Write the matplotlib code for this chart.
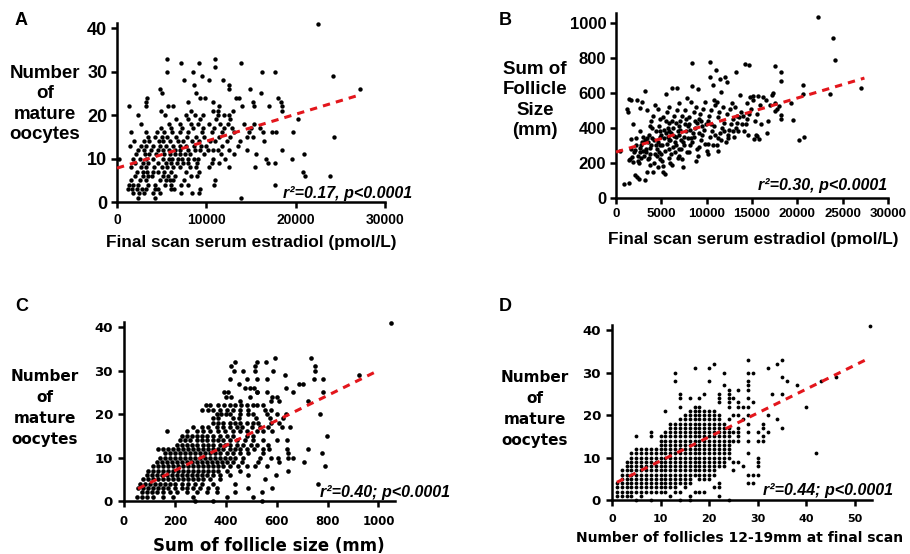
import matplotlib
matplotlib.use('Agg')
import matplotlib.pyplot as plt

# ---------------- panel A: mature oocytes vs estradiol (x in 1000 pmol/L), one row per oocyte count
a_counts = [1, 2, 3, 4, 5, 6, 7, 8, 9, 10, 11, 12, 13, 14, 15, 16, 17, 18, 19, 20,
            21, 22, 23, 24, 25, 26, 27, 28, 29, 30, 31, 32, 33, 41]
a_e2_k = [
    [2.4, 4.3, 13.9],
    [1.8, 2.5, 3.0, 4.0, 4.8, 7.2, 8.4, 9.2],
    [1.2, 1.7, 2.2, 2.8, 3.3, 4.2, 4.6, 6.0, 6.4, 9.3],
    [1.3, 1.8, 2.3, 3.5, 4.2, 5.4, 6.0, 7.2, 8.0, 10.9, 17.7],
    [1.6, 2.6, 3.2, 4.8, 5.5, 5.9, 6.3, 7.5, 11.0],
    [2.0, 2.9, 3.5, 3.9, 5.1, 5.7, 6.5, 8.3, 9.0, 21.0, 23.8],
    [2.2, 2.9, 3.4, 4.0, 4.6, 5.3, 6.0, 7.7, 9.2, 20.8],
    [1.6, 2.7, 3.3, 4.1, 5.0, 5.6, 6.3, 7.0, 8.2, 8.8, 10.3, 12.5, 15.5],
    [2.0, 2.9, 3.5, 4.6, 5.5, 6.0, 6.7, 7.4, 8.0, 8.9, 10.6, 11.4, 16.9, 17.7],
    [0.2, 1.8, 2.6, 3.2, 4.0, 5.2, 5.8, 6.2, 6.8, 7.3, 7.9, 8.6, 9.1, 10.8, 12.1, 16.7, 19.6],
    [2.1, 3.1, 3.6, 4.4, 5.3, 5.9, 6.5, 7.0, 7.6, 8.2, 9.7, 11.6, 13.1, 15.6, 20.9],
    [2.4, 3.0, 3.8, 4.6, 5.1, 5.8, 6.5, 7.1, 8.0, 8.7, 9.3, 10.2, 10.8, 11.3, 12.5, 14.5, 18.5],
    [1.4, 2.7, 3.3, 4.0, 4.8, 5.5, 6.3, 7.1, 7.7, 8.6, 9.4, 10.0, 11.7, 13.5],
    [1.9, 3.0, 3.6, 4.7, 5.2, 5.9, 6.8, 7.4, 8.4, 9.2, 10.4, 11.0, 12.3, 13.8, 16.4],
    [3.5, 4.2, 5.0, 5.6, 6.6, 7.8, 8.8, 9.7, 11.4, 12.6, 14.5, 15.2, 24.3],
    [1.6, 3.3, 4.5, 5.3, 6.2, 7.0, 7.9, 9.5, 10.6, 11.8, 13.1, 14.8, 16.3, 17.4, 17.8, 19.7],
    [4.9, 6.1, 7.3, 8.5, 9.6, 10.9, 12.0, 12.9, 15.0, 16.0],
    [2.7, 5.8, 7.0, 8.3, 9.1, 10.3, 11.5, 12.4, 14.2, 15.3],
    [6.6, 8.0, 9.3, 11.1, 12.7, 20.3],
    [2.4, 5.4, 7.7, 8.7, 9.6, 11.3, 12.0, 12.5],
    [4.9, 8.3, 10.7, 11.3, 13.0, 18.5],
    [1.3, 3.3, 5.7, 6.3, 11.4, 14.0, 15.3, 17.0, 18.5],
    [3.2, 7.9, 10.8, 15.2, 18.4],
    [3.4, 9.3, 9.9, 13.3, 13.7, 18.0],
    [5.0, 8.8, 16.1],
    [4.8, 12.5, 14.9, 27.2],
    [8.6, 12.5],
    [7.5, 10.3, 11.9],
    [9.5, 24.2],
    [5.6, 8.5, 16.2, 17.7],
    [11.0],
    [7.2, 9.2, 13.9],
    [5.6, 11.0],
    [22.5],
]
a_fit = [7.8, 0.62, 0, 27.0]   # intercept, slope per 1000, x from, x to (1000 pmol/L)

# ---------------- panel B: sum of follicle size vs estradiol (x in 1000 pmol/L)
b_e2_k = [1.2, 1.3, 1.4, 1.6, 1.7, 1.9, 1.4, 1.8, 1.9, 1.5, 2.0, 0.9, 1.4, 0.4, 2.1, 1.7,
          2.1, 2.3, 2.5, 2.3, 2.9, 2.7, 2.2, 2.4, 2.6, 2.8, 2.9, 2.5, 2.7, 3.0, 2.2, 2.6, 2.8, 3.0, 2.4,
          3.2, 3.4, 3.2, 3.4, 3.1, 3.3, 3.5, 3.6, 3.8, 3.9, 3.2, 3.7, 3.9, 3.5, 3.8, 3.3, 3.6, 4.0, 3.7, 3.4,
          4.1, 4.2, 4.3, 4.5, 4.6, 4.8, 4.4, 4.7, 4.9, 4.2, 4.5, 4.8, 4.1, 4.6, 4.3, 4.9, 4.4, 4.7, 4.0, 4.9, 4.6,
          5.2, 5.4, 5.5, 5.0, 5.1, 5.3, 5.5, 5.7, 5.9, 5.2, 5.6, 5.8, 5.1, 5.4, 5.6, 5.8, 5.3, 5.7, 5.9, 5.0,
          5.5, 5.9, 5.2, 5.8,
          6.2, 6.7, 6.0, 6.1, 6.3, 6.5, 6.6, 6.8, 6.9, 6.2, 6.4, 6.7, 6.9, 6.1, 6.3, 6.5, 6.8, 6.0, 6.6, 6.4,
          6.9, 6.2, 6.6,
          7.4, 7.0, 7.2, 7.4, 7.5, 7.7, 7.9, 7.1, 7.3, 7.6, 7.8, 7.2, 7.5, 7.8, 7.0, 7.6, 7.9, 7.3, 7.7, 7.1,
          8.4, 8.4, 8.0, 8.2, 8.3, 8.5, 8.7, 8.9, 8.1, 8.6, 8.8, 8.2, 8.4, 8.9, 8.0, 8.6, 8.8, 8.3, 8.7,
          9.0, 9.2, 9.4, 9.5, 9.7, 9.9, 9.1, 9.3, 9.6, 9.8, 9.2, 9.5, 9.8, 9.0, 9.4,
          10.4, 10.4, 10.7, 10.0, 10.2, 10.4, 10.6, 10.8, 10.1, 10.3, 10.5, 10.9, 10.2, 10.7, 10.9, 10.5, 10.8,
          11.0, 11.5, 11.6, 11.1, 11.3, 11.5, 11.7, 11.9, 11.2, 11.4, 11.8, 11.1, 11.6, 11.9, 11.3,
          12.0, 12.2, 12.1, 12.3, 12.5, 12.7, 12.9, 12.2, 12.6, 12.8, 12.4, 12.9,
          13.2, 13.7, 13.0, 13.2, 13.4, 13.6, 13.8, 13.1, 13.5, 13.9, 13.3,
          14.2, 14.7, 14.8, 14.1, 14.3, 14.5, 14.7, 14.9, 14.4, 14.6, 14.0,
          15.1, 15.5, 15.8, 15.2, 15.4, 15.3, 15.6, 15.9, 15.1, 16.0, 16.2, 15.7,
          16.6, 17.5, 17.3, 17.5, 18.0, 18.2, 18.2, 17.5, 18.2, 18.2, 16.8, 17.0, 17.8, 16.5, 17.2,
          19.5, 19.3, 20.6, 20.6, 20.7, 20.2, 22.3, 23.9, 24.2, 27.0, 23.6]
b_size = [510, 490, 567, 557, 338, 424, 215, 234, 205, 225, 260, 82, 86, 268, 272, 280,
          129, 120, 110, 557, 548, 515, 300, 240, 285, 230, 320, 200, 260, 350, 340, 380, 300, 270, 210,
          608, 500, 101, 148, 240, 280, 320, 360, 250, 300, 330, 410, 440, 220, 190, 260, 230, 340, 285, 345,
          148, 200, 250, 280, 320, 350, 380, 410, 300, 330, 240, 220, 470, 510, 530, 450, 300, 265, 400, 380, 175,
          148, 139, 595, 250, 300, 340, 370, 400, 430, 460, 490, 520, 210, 270, 310, 280, 390, 350, 330, 360,
          440, 230, 185, 380,
          629, 629, 200, 250, 290, 320, 350, 380, 410, 440, 470, 500, 540, 370, 400, 260, 230, 330, 300, 355,
          280, 190, 430,
          177, 240, 280, 320, 350, 380, 410, 440, 470, 500, 570, 330, 300, 260, 360, 420, 340, 220, 450, 390,
          772, 637, 260, 300, 340, 370, 400, 430, 460, 490, 520, 390, 320, 280, 420, 350, 210, 545, 440,
          240, 290, 330, 360, 390, 420, 450, 480, 510, 550, 370, 410, 310, 620, 440,
          776, 690, 643, 270, 310, 350, 380, 410, 440, 470, 500, 530, 250, 300, 360, 420, 560,
          728, 677, 605, 300, 340, 370, 400, 430, 460, 490, 520, 550, 330, 380, 270,
          690, 662, 320, 360, 390, 420, 450, 480, 510, 540, 340, 380,
          719, 585, 350, 400, 430, 460, 490, 520, 380, 420, 470,
          766, 760, 576, 380, 420, 450, 480, 510, 540, 360, 470,
          580, 352, 338, 338, 357, 440, 480, 530, 560, 424, 576, 580,
          371, 753, 599, 542, 523, 475, 449, 496, 719, 667, 440, 530, 510, 560, 590,
          447, 544, 643, 591, 348, 329, 1032, 914, 785, 627, 591]
b_fit = [262, 15.4, 0, 27.4]

# ---------------- panel C: mature oocytes vs sum of follicle size (mm), one row per oocyte count
c_counts = list(range(0, 34)) + [41]
c_size = [
    [279, 351, 541],
    [52, 70, 89, 115, 155, 194, 273, 404, 508],
    [70, 89, 109, 128, 155, 181, 207, 246, 286, 325, 364, 436, 541],
    [56, 76, 96, 115, 135, 155, 174, 201, 227, 246, 273, 299, 332, 364, 489, 580],
    [63, 83, 102, 122, 142, 161, 181, 201, 227, 253, 279, 305, 351, 436, 764],
    [76, 96, 115, 135, 155, 174, 194, 214, 233, 253, 273, 292, 312, 338, 377, 554],
    [89, 109, 128, 148, 168, 187, 207, 227, 246, 266, 286, 305, 325, 351, 377, 417, 489, 596],
    [96, 115, 135, 155, 174, 194, 214, 233, 253, 273, 292, 312, 332, 351, 371, 404, 456, 646],
    [115, 135, 155, 174, 194, 214, 233, 253, 273, 292, 312, 332, 351, 371, 391, 417, 449, 482, 515, 561, 790],
    [128, 148, 168, 187, 207, 227, 246, 266, 286, 305, 325, 345, 364, 384, 404, 430, 463, 528, 611, 708],
    [142, 161, 181, 201, 220, 240, 260, 279, 299, 318, 338, 358, 377, 397, 417, 436, 469, 535, 577, 607, 646, 666],
    [161, 181, 201, 220, 240, 260, 279, 299, 318, 338, 358, 377, 404, 430, 456, 489, 548, 646, 777],
    [135, 155, 174, 194, 214, 233, 253, 273, 292, 312, 332, 351, 371, 391, 417, 436, 456, 482, 511, 548, 571, 642, 725],
    [207, 227, 246, 266, 286, 312, 332, 351, 377, 397, 417, 443, 469, 498, 521, 567],
    [220, 240, 260, 286, 305, 325, 351, 371, 391, 417, 443, 476, 508, 548, 600, 640],
    [227, 246, 266, 286, 305, 325, 351, 377, 404, 430, 482, 508, 797],
    [168, 246, 286, 312, 338, 371, 397, 430, 456, 482, 521, 548, 580],
    [273, 305, 332, 364, 391, 417, 443, 463, 502, 535, 567, 620, 653],
    [351, 371, 391, 417, 436, 456, 482, 508, 528, 577, 611],
    [351, 371, 430, 453, 519, 574, 626],
    [364, 383, 401, 417, 456, 488, 508, 561, 600, 637, 771],
    [305, 332, 351, 377, 404, 430, 456, 489, 554, 577],
    [322, 338, 371, 393, 417, 436, 461, 482, 505, 521, 548],
    [456, 577, 611, 723],
    [401, 419, 495, 580, 600],
    [392, 409, 521, 524, 561, 666, 784],
    [476, 495, 511, 636],
    [453, 688, 702],
    [417, 485, 521, 561, 748, 784],
    [633, 925],
    [434, 469, 514, 587, 751],
    [420, 515, 751],
    [436, 521, 558],
    [595, 735],
    [1048],
]
c_fit = [1.25, 0.0288, 55, 1000]

# ---------------- panel D: mature oocytes vs number of follicles 12-19 mm, one column per follicle count
d_follicles = [1, 2, 3, 4, 5, 6, 7, 8, 9, 10, 11, 12, 13, 14, 15, 16, 17, 18, 19, 20,
               21, 22, 23, 24, 25, 26, 27, 28, 29, 30, 31, 32, 33, 34, 35, 36, 38, 40, 42, 43, 46, 53]
d_oocytes = [
    [1, 2, 3, 4],
    [1, 2, 3, 4, 5, 6, 7],
    [1, 2, 3, 4, 5, 6, 7, 8, 9],
    [1, 2, 3, 4, 5, 6, 7, 8, 9, 10, 11],
    [0, 2, 3, 4, 5, 6, 7, 8, 9, 10, 11, 12, 15],
    [1, 2, 3, 4, 5, 6, 7, 8, 9, 10, 11, 12],
    [2, 3, 4, 5, 6, 7, 8, 9, 10, 11, 12],
    [0, 2, 3, 4, 5, 6, 7, 8, 9, 10, 11, 12, 15, 16],
    [2, 3, 4, 5, 6, 7, 8, 9, 10, 11, 12],
    [2, 3, 4, 5, 6, 7, 8, 9, 10, 11, 12, 13, 14, 15],
    [2, 3, 4, 5, 6, 7, 8, 9, 10, 11, 12, 13, 14, 15, 16, 21],
    [1, 3, 4, 5, 6, 7, 8, 9, 10, 11, 12, 13, 14, 15, 16, 17, 18],
    [2, 3, 4, 5, 6, 7, 8, 9, 10, 11, 12, 13, 14, 15, 16, 17, 18, 28, 30],
    [0, 2, 4, 5, 6, 7, 8, 9, 10, 11, 12, 13, 14, 15, 16, 17, 18, 19, 22, 24, 25],
    [3, 4, 5, 6, 7, 8, 9, 10, 11, 12, 13, 14, 15, 16, 17, 18, 19, 20],
    [0, 1, 4, 5, 6, 7, 8, 9, 10, 11, 12, 13, 14, 15, 16, 17, 18, 19, 20, 21, 24],
    [2, 6, 7, 8, 9, 10, 11, 12, 13, 14, 15, 16, 17, 18, 19, 20, 21, 22, 31],
    [2, 5, 6, 7, 8, 9, 10, 11, 12, 13, 14, 15, 16, 17, 18, 19, 20, 21, 22, 24],
    [2, 5, 6, 7, 8, 9, 10, 11, 12, 13, 14, 15, 16, 17, 18, 19, 20, 21, 25],
    [5, 6, 7, 8, 9, 10, 11, 12, 13, 14, 15, 16, 17, 18, 19, 20, 21, 28, 31],
    [3, 6, 7, 8, 9, 10, 11, 12, 13, 14, 15, 16, 17, 18, 19, 20, 21, 32],
    [1, 3, 4, 8, 9, 10, 11, 12, 13, 14, 15, 16, 17, 18, 19, 20, 23, 24, 25],
    [8, 9, 10, 11, 12, 13, 14, 15, 16, 17, 18, 27, 30],
    [0, 10, 11, 12, 13, 14, 15, 16, 17, 19, 22, 23, 24, 25, 26],
    [7, 9, 14, 16, 20, 24],
    [9, 14, 15, 16, 17, 20, 22, 23, 26],
    [8, 19, 22],
    [4, 6, 11, 14, 16, 18, 20, 22, 24, 26, 27, 28, 30, 33],
    [4, 6, 23, 30],
    [6, 8, 9, 10, 14, 16],
    [14, 15, 17, 18],
    [16, 20, 31],
    [25],
    [19, 32],
    [17, 25, 29, 33],
    [28],
    [27],
    [22],
    [11],
    [28],
    [29],
    [41],
]
d_fit = [3.6, 0.563, 1, 52]

W, H = 910, 554


def fx(px):
    return px / W


def fy(py):
    return 1 - py / H


def flatten_rows(levels, values, scale=1.0):
    xs, ys = [], []
    for lev, vals in zip(levels, values):
        for v in vals:
            xs.append(v * scale)
            ys.append(lev)
    return xs, ys


def style_axes(ax, font, xsize, ysize):
    for s in ['top', 'right']:
        ax.spines[s].set_visible(False)
    for s in ['left', 'bottom']:
        ax.spines[s].set_linewidth(1.8)
    ax.tick_params(direction='out', length=4, width=1.8, pad=3)
    for lab in ax.get_xticklabels():
        lab.set_fontfamily(font)
        lab.set_fontweight('bold')
        lab.set_fontsize(xsize)
    for lab in ax.get_yticklabels():
        lab.set_fontfamily(font)
        lab.set_fontweight('bold')
        lab.set_fontsize(ysize)


def fit_line(ax, fit, scale=1.0):
    b0, b1, x0, x1 = fit
    ax.plot([x0 * scale, x1 * scale], [b0 + b1 * x0, b0 + b1 * x1], color='#e3161c',
            lw=2.2, linestyle=(0, (2.4, 2.0)), zorder=3, clip_on=False)


fig = plt.figure(figsize=(9.1, 5.54), dpi=100)
dot = dict(s=10, c='black', linewidths=0, zorder=2, clip_on=False)
sans = 'Liberation Sans'
wide = 'DejaVu Sans'

# A
axA = fig.add_axes([fx(117), fy(202), fx(385 - 117), (202 - 23) / H])
xa, ya = flatten_rows(a_counts, a_e2_k, 1000)
axA.scatter(xa, ya, **dot)
fit_line(axA, a_fit, 1000)
axA.set_xlim(0, 30000)
axA.set_ylim(0, 41.2)
axA.set_xticks([0, 10000, 20000, 30000])
axA.set_yticks([0, 10, 20, 30, 40])
style_axes(axA, sans, 10, 13)
axA.tick_params(axis='x', pad=4)

# B
axB = fig.add_axes([fx(616), fy(198), fx(888 - 616), (198 - 13) / H])
axB.scatter([v * 1000 for v in b_e2_k], b_size, **dot)
fit_line(axB, b_fit, 1000)
axB.set_xlim(0, 30000)
axB.set_ylim(0, 1055)
axB.set_xticks([0, 5000, 10000, 15000, 20000, 25000, 30000])
axB.set_yticks([0, 200, 400, 600, 800, 1000])
style_axes(axB, sans, 9.5, 12)

# C
axC = fig.add_axes([fx(124), fy(501), fx(395 - 124), (501 - 322) / H])
xc, yc = flatten_rows(c_counts, c_size)
axC.scatter(xc, yc, **dict(dot, s=11))
fit_line(axC, c_fit)
axC.set_xlim(0, 1065)
axC.set_ylim(0, 41.2)
axC.set_xticks([0, 200, 400, 600, 800, 1000])
axC.set_yticks([0, 10, 20, 30, 40])
style_axes(axC, wide, 8.5, 9.5)
axC.tick_params(axis='x', pad=6)
axC.tick_params(axis='y', pad=4)

# D
axD = fig.add_axes([fx(612), fy(500), fx(872 - 612), (500 - 325) / H])
xd, yd = [], []
for f, occ in zip(d_follicles, d_oocytes):
    for o in occ:
        xd.append(f)
        yd.append(o)
axD.scatter(xd, yd, **dict(dot, s=7.5))
fit_line(axD, d_fit)
axD.set_xlim(0, 53.5)
axD.set_ylim(0, 41.2)
axD.set_xticks([0, 10, 20, 30, 40, 50])
axD.set_yticks([0, 10, 20, 30, 40])
style_axes(axD, wide, 8, 9.5)
axD.tick_params(axis='x', pad=6)
axD.tick_params(axis='y', pad=4)

# panel letters
for letter, px, py in [('A', 15, 12), ('B', 499, 12), ('C', 15, 298), ('D', 499, 298)]:
    fig.text(fx(px), fy(py), letter, family=sans, weight='bold', size=13, ha='left', va='top')

# axis titles
fig.text(fx(45), fy(104), 'Number\nof\nmature\noocytes', family=sans, weight='bold', size=13.5,
         ha='center', va='center', multialignment='center', linespacing=1.25)
fig.text(fx(251), fy(243), 'Final scan serum estradiol (pmol/L)', family=sans, weight='bold',
         size=12.4, ha='center', va='center')
fig.text(fx(535), fy(100), 'Sum of\nFollicle\nSize\n(mm)', family=sans, weight='bold', size=13.5,
         ha='center', va='center', multialignment='center', linespacing=1.25)
fig.text(fx(753), fy(240), 'Final scan serum estradiol (pmol/L)', family=sans, weight='bold',
         size=12.4, ha='center', va='center')
fig.text(fx(45), fy(408), 'Number\nof\nmature\noocytes', family=wide, weight='bold', size=11,
         ha='center', va='center', multialignment='center', linespacing=1.5)
fig.text(fx(269), fy(546), 'Sum of follicle size (mm)', family=wide, weight='bold', size=12,
         ha='center', va='center')
fig.text(fx(535), fy(409), 'Number\nof\nmature\noocytes', family=wide, weight='bold', size=11,
         ha='center', va='center', multialignment='center', linespacing=1.5)
fig.text(fx(740), fy(538), 'Number of follicles 12-19mm at final scan', family=wide, weight='bold',
         size=10, ha='center', va='center')

# statistics
for txt, px, py in [('r²=0.17, p<0.0001', 412, 193), ('r²=0.30, p<0.0001', 887, 185),
                    ('r²=0.40; p<0.0001', 450, 493), ('r²=0.44; p<0.0001', 893, 490)]:
    fig.text(fx(px), fy(py), txt, family=sans, weight='bold', style='italic', size=11.5,
             ha='right', va='center')

fig.savefig('out.png', dpi=100)
